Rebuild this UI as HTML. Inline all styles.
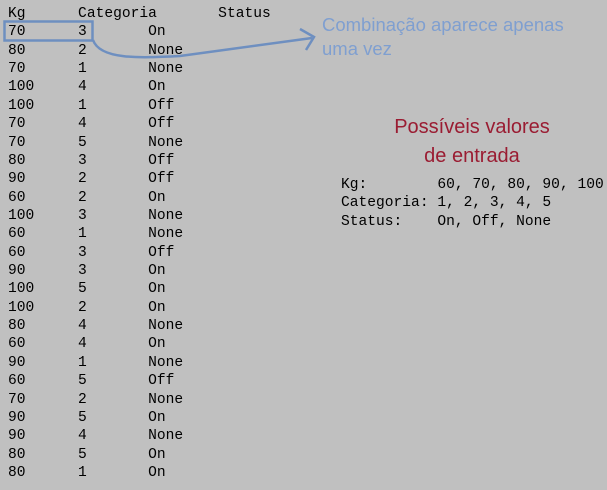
<!DOCTYPE html>
<html><head><meta charset="utf-8"><style>
body{margin:0;width:607px;height:490px;background:#c0c0c0;position:relative;overflow:hidden}
pre{margin:0;position:absolute;font-family:"Liberation Mono",monospace;font-size:14.6px;line-height:18.36px;color:#000}
.t{position:absolute;font-family:"Liberation Sans",sans-serif}
</style></head><body>
<pre style="left:8px;top:5px">Kg      Categoria       Status
70      3       On
80      2       None
70      1       None
100     4       On
100     1       Off
70      4       Off
70      5       None
80      3       Off
90      2       Off
60      2       On
100     3       None
60      1       None
60      3       Off
90      3       On
100     5       On
100     2       On
80      4       None
60      4       On
90      1       None
60      5       Off
70      2       None
90      5       On
90      4       None
80      5       On
80      1       On</pre>
<svg width="607" height="490" style="position:absolute;left:0;top:0">
<rect x="4.5" y="21.5" width="88" height="19" fill="none" stroke="#6e8fc0" stroke-width="2.5"/>
<path d="M93 40 C100 60 140 58 180 56 L312 38" fill="none" stroke="#6e8fc0" stroke-width="2.5"/>
<path d="M300 29 L314 37 L306 50" fill="none" stroke="#6e8fc0" stroke-width="2.5"/>
</svg>
<div class="t" style="left:322px;top:13px;font-size:18.5px;line-height:24px;color:#7f9fd0">Combinação aparece apenas<br>uma vez</div>
<div class="t" style="left:372px;top:113px;width:200px;text-align:center;font-size:20px;line-height:29px;color:#9a1c32">Possíveis valores<br>de entrada</div>
<pre style="left:341px;top:176px">Kg:        60, 70, 80, 90, 100
Categoria: 1, 2, 3, 4, 5
Status:    On, Off, None</pre>
</body></html>
